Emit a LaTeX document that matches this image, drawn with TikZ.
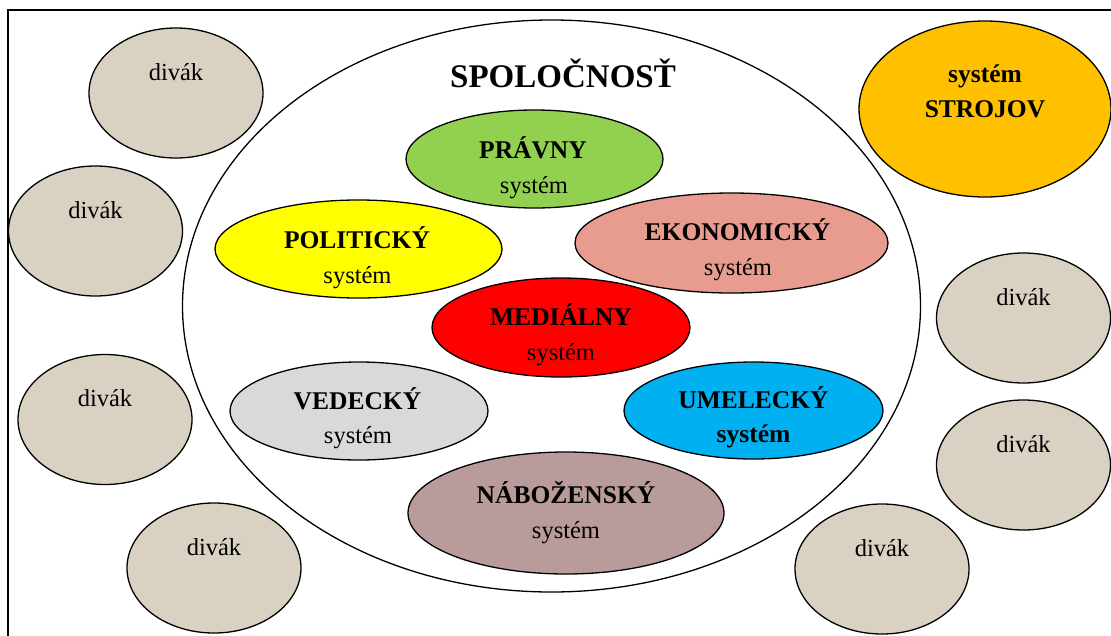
\documentclass[tikz,border=0pt]{standalone}
\usepackage{fontspec}
\setmainfont{Liberation Serif}
\usetikzlibrary{shapes.geometric}
\definecolor{divakc}{HTML}{D9D2C3}
\definecolor{strojc}{HTML}{FFC000}
\definecolor{pravc}{HTML}{92D050}
\definecolor{polc}{HTML}{FFFF00}
\definecolor{ekoc}{HTML}{E89C90}
\definecolor{medc}{HTML}{FF0000}
\definecolor{vedc}{HTML}{D9D9D9}
\definecolor{umc}{HTML}{00B0F0}
\definecolor{nabc}{HTML}{B89B9A}
\tikzset{
  frameline/.style={line width=1.6pt},
  sysell/.style={ellipse, draw=black, line width=1.3pt, inner sep=0pt},
  divakell/.style={sysell, fill=divakc, minimum width=174pt, minimum height=130pt},
  lbl/.style={anchor=base, inner sep=0pt, font=\fontsize{24.5}{28}\selectfont},
  blbl/.style={anchor=base, inner sep=0pt, font=\fontsize{25.5}{30}\selectfont\bfseries},
  titlelbl/.style={anchor=base, inner sep=0pt, font=\fontsize{33}{38}\selectfont\bfseries},
}
\begin{document}
\begin{tikzpicture}[x=1pt,y=-1pt]
\useasboundingbox (0,0) rectangle (1111,635);
% frame (top and left edges visible)
\coordinate (fA) at (8,700);
\coordinate (fB) at (8,10);
\coordinate (fC) at (1200,10);
\draw[frameline] (fA) -- (fB) -- (fC);

% society ellipse
\node[sysell, fill=white, minimum width=738pt, minimum height=572pt] (spol) at (551.5,306) {};
\node[titlelbl] (spolT) at (563,87) {SPOLOČNOSŤ};

% inner systems
\node[sysell, fill=pravc, minimum width=257pt, minimum height=98pt] (prav) at (534.5,159) {};
\node[blbl] (pravT1) at (533,158) {PRÁVNY};
\node[lbl] (pravT2) at (534,193) {systém};

\node[sysell, fill=polc, minimum width=287pt, minimum height=98pt] (pol) at (358.5,249) {};
\node[blbl] (polT1) at (357,248) {POLITICKÝ};
\node[lbl] (polT2) at (357.5,283) {systém};

\node[sysell, fill=ekoc, minimum width=313pt, minimum height=100pt] (eko) at (731.5,243) {};
\node[blbl] (ekoT1) at (737.5,240) {EKONOMICKÝ};
\node[lbl] (ekoT2) at (738,275) {systém};

\node[sysell, fill=medc, minimum width=258pt, minimum height=99pt] (med) at (561,327.5) {};
\node[blbl] (medT1) at (561,325) {MEDIÁLNY};
\node[lbl] (medT2) at (561,360) {systém};

\node[sysell, fill=vedc, minimum width=258pt, minimum height=98pt] (ved) at (359,411) {};
\node[blbl] (vedT1) at (357.5,409) {VEDECKÝ};
\node[lbl] (vedT2) at (358,443) {systém};

\node[sysell, fill=umc, minimum width=259pt, minimum height=97pt] (um) at (753.5,410.5) {};
\node[blbl] (umT1) at (753.5,408) {UMELECKÝ};
\node[blbl] (umT2) at (753.5,442) {systém};

\node[sysell, fill=nabc, minimum width=316pt, minimum height=122pt] (nab) at (566,513) {};
\node[blbl] (nabT1) at (566,503) {NÁBOŽENSKÝ};
\node[lbl] (nabT2) at (566,538) {systém};

% machines
\node[sysell, fill=strojc, minimum width=252pt, minimum height=176pt] (stroj) at (985,109) {};
\node[blbl] (strojT1) at (985,82) {systém};
\node[blbl] (strojT2) at (985,117) {STROJOV};

% spectators
\node[divakell] (d1) at (176,93) {};
\node[lbl] (d1T) at (176,80) {divák};
\node[divakell] (d2) at (95.5,231) {};
\node[lbl] (d2T) at (95.5,218) {divák};
\node[divakell] (d3) at (105,419.5) {};
\node[lbl] (d3T) at (105,406.5) {divák};
\node[divakell] (d4) at (214,568) {};
\node[lbl] (d4T) at (214,555) {divák};
\node[divakell] (d5) at (1023.5,318) {};
\node[lbl] (d5T) at (1023.5,305) {divák};
\node[divakell] (d6) at (1023.5,465) {};
\node[lbl] (d6T) at (1023.5,452) {divák};
\node[divakell] (d7) at (882,569) {};
\node[lbl] (d7T) at (882,556) {divák};
\end{tikzpicture}
\end{document}
